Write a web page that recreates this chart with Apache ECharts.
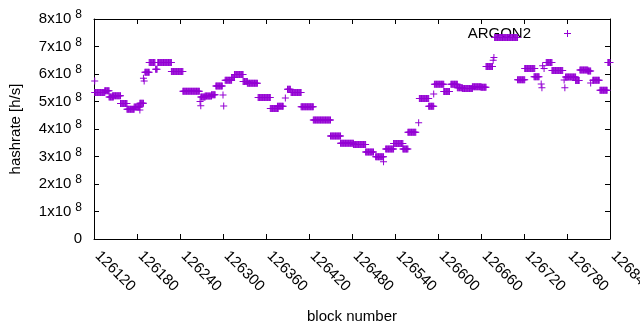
<!DOCTYPE html>
<html><head><meta charset="utf-8">
<script src="https://cdn.jsdelivr.net/npm/echarts@6/dist/echarts.min.js"></script>
<style>html,body{margin:0;padding:0;background:#fff}#c{width:640px;height:330px}</style>
</head><body><div id="c"></div>
<script>
const seriesName = 'ARGON2';
const xMin = 126120, xMax = 126840, xStep = 60;
const yMin = 0, yMax = 8e8, yStep = 1e8;

// piecewise-constant runs of the hashrate estimate (block range, value)
const runStart = [126121,126135,126141,126146,126157,126166,126176,126184,126191,126197,126206,126209,126228,126244,126269,126275,126284,126290,126303,126312,126316,126328,126334,126349,126366,126376,126390,126395,126409,126426,126450,126464,126482,126499,126513,126527,126538,126551,126558,126574,126587,126595,126608,126618,126627,126634,126648,126660,126667,126679,126711,126721,126734,126751,126759,126778,126792,126798,126809,126816,126826,126837];
const runEnd   = [126135,126141,126147,126157,126166,126176,126184,126189,126197,126205,126208,126228,126244,126267,126275,126284,126289,126299,126312,126316,126328,126334,126348,126366,126377,126384,126394,126409,126426,126450,126464,126482,126499,126510,126524,126538,126551,126558,126569,126587,126594,126608,126616,126627,126634,126648,126660,126667,126676,126711,126721,126735,126741,126759,126774,126792,126797,126809,126813,126825,126836,126840];
const runValue = [5.33e8,5.39e8,5.16e8,5.21e8,4.93e8,4.72e8,4.80e8,4.94e8,6.06e8,6.42e8,6.17e8,6.42e8,6.09e8,5.37e8,5.16e8,5.20e8,5.25e8,5.56e8,5.77e8,5.87e8,5.98e8,5.73e8,5.66e8,5.15e8,4.75e8,4.83e8,5.45e8,5.33e8,4.81e8,4.33e8,3.75e8,3.48e8,3.44e8,3.16e8,2.99e8,3.27e8,3.47e8,3.27e8,3.88e8,5.11e8,4.83e8,5.63e8,5.36e8,5.63e8,5.50e8,5.47e8,5.54e8,5.52e8,6.27e8,7.33e8,5.79e8,6.20e8,5.90e8,6.42e8,6.13e8,5.89e8,5.76e8,6.15e8,6.11e8,5.77e8,5.41e8,6.42e8];

// isolated points
const outlierBlock = [126121,126184,126189,126190,126268,126269,126300,126301,126387,126524,126573,126594,126677,126678,126744,126745,126746,126748,126776,126777,126813];
const outlierValue = [5.745e8,4.69e8,5.85e8,5.75e8,5.0e8,4.85e8,5.24e8,4.84e8,5.13e8,2.81e8,4.23e8,5.27e8,6.5e8,6.6e8,5.64e8,5.5e8,6.3e8,6.2e8,5.78e8,5.5e8,5.67e8];

const data = [];
runStart.forEach((s, i) => { for (let b = s; b <= runEnd[i]; b++) data.push([b, runValue[i]]); });
outlierBlock.forEach((b, i) => data.push([b, outlierValue[i]]));
data.sort((a, b) => a[0] - b[0]);

const FONT = 'Liberation Sans';
const black = '#000';
const plus = 'path://M0,3H7V4H0Z M3,0H4V7H3Z';

const chart = echarts.init(document.getElementById('c'), null, {renderer: 'canvas'});
const tickCommon = {show: true, inside: true, length: 5, lineStyle: {color: black, width: 1}};
const lineCommon = {show: true, onZero: false, lineStyle: {color: black, width: 1}};
chart.setOption({
  animation: false,
  backgroundColor: '#fff',
  grid: {left: 94, right: 30, top: 19, bottom: 91, containLabel: false, outerBoundsMode: 'none'},
  legend: {
    data: [{name: seriesName, icon: plus}], right: 64, top: 21, align: 'right', z: 1,
    itemWidth: 7, itemHeight: 7,
    textStyle: {fontFamily: FONT, fontSize: 15, color: black, padding: [0, 28, 0, 0]}
  },
  xAxis: [{
    type: 'value', min: xMin, max: xMax, interval: xStep, position: 'bottom',
    axisLine: lineCommon, axisTick: tickCommon, splitLine: {show: false},
    axisLabel: {rotate: -45, margin: 11, padding: [0, 0, 0, 5], fontFamily: FONT, fontSize: 15, color: black,
      showMinLabel: true, showMaxLabel: true, formatter: v => String(v)},
    name: 'block number', nameLocation: 'middle', nameGap: 70,
    nameTextStyle: {fontFamily: FONT, fontSize: 15, color: black}
  }, {
    type: 'value', min: xMin, max: xMax, interval: xStep, position: 'top',
    axisLine: lineCommon, axisTick: tickCommon, splitLine: {show: false}, axisLabel: {show: false}
  }],
  yAxis: [{
    type: 'value', min: yMin, max: yMax, interval: yStep, position: 'left',
    axisLine: lineCommon, axisTick: tickCommon, splitLine: {show: false},
    axisLabel: {
      margin: 12, color: black, fontFamily: FONT, fontSize: 15,
      formatter: v => v === 0 ? '0' : '{a|' + Math.round(v / 1e8) + 'x10}{b|8}',
      rich: {
        a: {fontFamily: FONT, fontSize: 15, color: black},
        b: {fontFamily: FONT, fontSize: 12, color: black, padding: [0, 0, 8, 4]}
      }
    },
    name: 'hashrate [h/s]', nameLocation: 'middle', nameGap: 71, nameRotate: 90,
    nameTextStyle: {fontFamily: FONT, fontSize: 15, color: black}
  }, {
    type: 'value', min: yMin, max: yMax, interval: yStep, position: 'right',
    axisLine: lineCommon, axisTick: tickCommon, splitLine: {show: false}, axisLabel: {show: false}
  }],
  series: [{
    name: seriesName, type: 'scatter', data: data,
    symbol: plus, symbolSize: 7, symbolKeepAspect: true,
    itemStyle: {color: '#9400d3', opacity: 1},
    emphasis: {disabled: true}, z: 2
  }]
});
</script></body></html>
